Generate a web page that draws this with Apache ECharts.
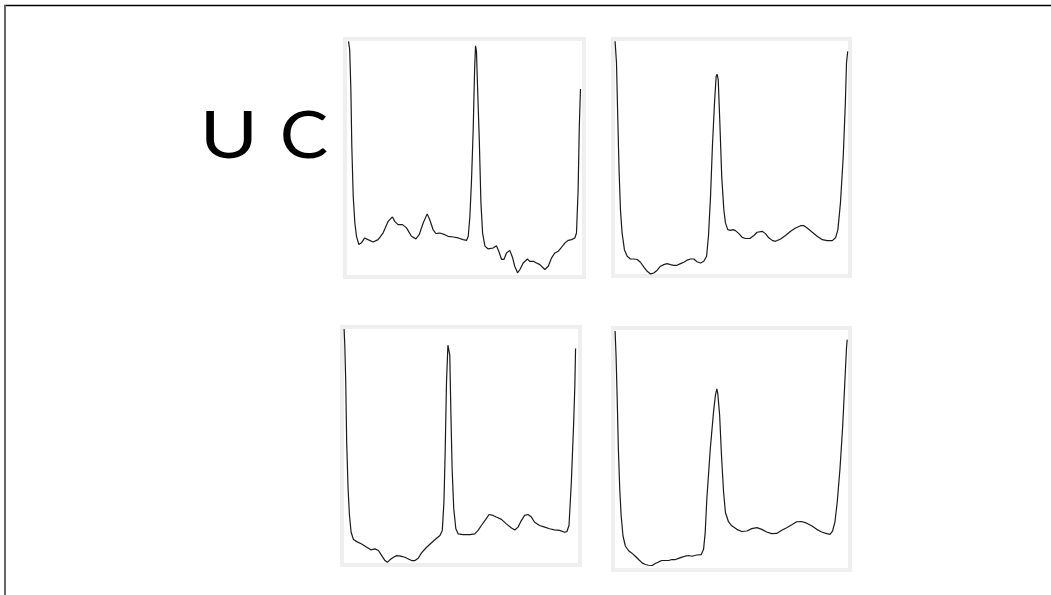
<!DOCTYPE html>
<html>
<head>
<meta charset="utf-8">
<script src="https://cdn.jsdelivr.net/npm/echarts@6/dist/echarts.min.js"></script>
<style>
html,body{margin:0;padding:0;background:#fff;}
#c{width:1051px;height:595px;}
</style>
</head>
<body>
<div id="c"></div>
<script>
// Text labels
const labelU = 'U';
const labelC = 'C';

// Panel 1 (top-left): position (0-100), intensity (0-100)
const p1X = [0.6,1.1,1.6,2.0,2.6,3.3,4.0,5.0,6.1,7.5,8.9,11.1,13.2,15.3,17.5,19.3,20.3,21.7,23.6,25.3,27.4,29.3,30.7,32.4,34.1,35.2,36.6,37.8,39.5,41.6,43.0,45.2,47.3,49.4,50.9,51.6,52.3,53.0,53.7,54.3,54.7,55.1,55.5,56.3,57.0,57.7,58.7,60.1,62.2,63.6,64.6,65.8,66.8,67.9,69.3,70.5,71.4,72.6,73.6,75.0,76.8,77.8,79.3,80.7,82.1,84.2,85.7,87.1,88.5,89.9,91.3,92.8,94.2,95.6,97.0,97.7,98.4,98.9,99.4];
const p1Y = [99.9,96.3,79.2,55.0,33.6,22.2,16.5,13.0,13.7,15.8,15.1,14.1,15.1,17.9,22.9,24.8,22.9,21.5,21.5,20.1,16.5,15.4,17.2,22.2,26.1,23.6,19.4,17.7,17.9,17.2,16.5,16.2,15.8,15.1,14.8,16.5,25.1,40.7,62.1,87.7,98.0,95.6,82.1,57.8,30.8,17.9,12.3,11.1,11.5,12.5,10.1,6.6,6.6,9.4,10.5,7.3,3.7,0.9,2.3,5.1,6.8,5.8,5.8,5.1,4.4,2.3,3.7,7.3,9.4,10.1,11.8,13.7,14.8,15.1,15.8,17.9,36.5,63.5,79.5];

// Panel 2 (top-right)
const p2X = [0,0.6,1.1,1.7,2.3,3.0,4.0,5.2,6.6,8.0,9.5,10.9,12.3,13.8,15.2,16.6,18.1,19.5,20.9,22.3,23.8,25.2,26.6,28.1,29.5,30.9,32.4,33.8,35.2,36.7,38.1,39.3,40.1,41.0,41.8,42.7,43.4,43.8,44.3,45.0,45.8,46.7,47.4,48.4,49.6,50.7,51.7,53.2,54.6,56.0,57.9,59.6,61.0,63.2,64.6,66.0,67.5,68.9,71.1,73.2,75.4,77.5,79.7,81.1,82.5,84.7,86.8,89.0,91.1,93.3,94.7,95.7,96.8,98.0,98.9,99.4,99.9];
const p2Y = [99.9,90.6,69.1,44.8,27.6,17.6,10.4,7.6,6.4,6.4,6.2,5.0,3.0,1.1,0.0,0.4,1.6,3.3,4.0,4.4,4.0,3.7,3.7,4.4,5.0,5.9,6.4,6.4,5.2,4.7,5.4,7.6,16.2,33.3,54.8,73.4,84.8,85.8,83.4,64.8,41.9,27.6,21.9,19.0,18.7,19.0,18.6,17.3,15.7,15.2,15.2,16.5,17.9,18.3,17.3,15.5,14.4,14.0,15.0,16.5,18.3,19.7,20.7,20.7,19.7,17.9,16.2,14.7,14.3,14.3,15.5,19.0,30.5,50.5,73.4,90.6,95.6];

// Panel 3 (bottom-left)
const p3X = [0,0.3,0.7,1.1,1.7,2.3,3.0,4.0,5.4,7.5,9.7,11.4,13.2,14.7,16.1,17.5,18.5,19.6,21.1,22.5,24.2,26.0,27.5,28.9,30.3,31.7,33.1,35.3,37.4,39.3,41.0,42.0,42.7,43.2,43.8,44.4,44.8,45.2,45.7,46.2,46.9,47.8,48.8,50.9,53.8,55.9,57.3,58.7,60.6,62.0,63.7,65.1,67.3,69.4,71.6,73.0,74.4,75.8,77.2,78.7,80.1,81.5,83.6,85.8,87.9,89.9,92.2,94.3,95.3,96.2,97.2,98.2,98.7,99.0];
const p3Y = [100,93.1,77.4,51.7,31.7,20.3,13.1,10.0,9.1,8.1,6.7,5.6,6.0,5.3,3.1,1.0,0.3,1.3,2.4,3.1,2.9,2.4,1.7,1.0,1.0,2.0,4.3,6.7,8.6,10.3,11.7,13.9,26.0,46.0,77.4,93.1,93.9,88.9,63.1,40.3,23.1,14.6,12.4,12.1,12.1,12.4,13.9,16.0,18.6,20.7,20.3,19.6,18.6,16.7,14.9,14.1,15.3,18.1,20.3,20.7,19.6,17.4,16.0,15.3,14.6,14.1,13.9,13.1,13.4,16.0,34.6,60.3,76.0,91.7];

// Panel 4 (bottom-right)
const p4X = [0,0.4,0.9,1.4,2.0,2.6,3.4,4.4,5.9,7.3,8.7,10.1,11.6,13.0,14.4,15.9,17.3,18.7,20.1,21.6,23.0,24.4,25.9,27.3,28.7,30.1,31.6,33.0,35.1,37.0,38.0,38.7,39.4,40.9,42.3,43.1,43.7,44.1,44.9,45.7,46.6,47.4,48.7,50.1,52.3,54.4,56.6,58.7,60.9,63.0,65.1,67.3,69.4,71.6,73.7,75.9,78.0,80.1,82.3,84.4,86.6,88.7,90.9,92.3,93.4,94.4,95.4,96.6,97.7,98.7,99.4,99.7];
const p4Y = [99.6,89.7,71.3,50.1,33.2,21.9,13.4,9.2,7.1,6.1,4.9,3.5,2.1,1.4,1.1,1.0,1.8,2.5,3.1,3.1,3.1,3.5,3.5,4.0,4.5,4.9,5.2,4.9,5.4,5.6,7.8,14.8,29.0,50.2,65.7,72.7,75.3,73.4,64.3,47.3,31.8,23.3,19.4,17.7,16.2,15.3,15.5,16.5,16.9,16.2,15.1,14.4,14.5,15.8,16.9,18.1,19.4,19.5,18.8,17.7,16.2,15.1,14.4,14.1,15.5,19.1,27.5,41.7,58.6,78.4,92.5,96.0];

const panels = [[p1X,p1Y],[p2X,p2Y],[p3X,p3Y],[p4X,p4Y]];
const gridBoxes = [
  {left:345, top:39, width:239, height:238},
  {left:613, top:39, width:237, height:237},
  {left:342, top:327, width:238, height:238},
  {left:613, top:328, width:237, height:242}
];

function pairs(xs, ys){ return xs.map((x,i)=>[x, ys[i]]); }

const chart = echarts.init(document.getElementById('c'), null, {renderer:'canvas'});
const option = {
  backgroundColor:'#ffffff',
  animation:false,
  grid: gridBoxes.map(g => Object.assign({show:true, borderColor:'#efefef', borderWidth:4, backgroundColor:'#ffffff', containLabel:false}, g)),
  xAxis: gridBoxes.map((g,i)=>({type:'value', gridIndex:i, min:-0.9, max:100.9, show:false, splitLine:{show:false}})),
  yAxis: gridBoxes.map((g,i)=>({type:'value', gridIndex:i, min:-0.9, max:100.9, show:false, splitLine:{show:false}})),
  series: panels.map((p,i)=>({
    type:'line', xAxisIndex:i, yAxisIndex:i, data:pairs(p[0],p[1]),
    showSymbol:false, smooth:false,
    lineStyle:{color:'#1a1a1a', width:1.2}
  })),
  graphic: [
    {type:'line', shape:{x1:4, y1:5.5, x2:1051, y2:5.5}, style:{stroke:'#000', lineWidth:1.5}},
    {type:'line', shape:{x1:5, y1:5, x2:5, y2:595}, style:{stroke:'#666', lineWidth:2}},
    {type:'text', x:229, y:137, scaleX:1.2, style:{text:labelU, font:'400 66px Lato', fill:'#000', align:'center', verticalAlign:'middle'}},
    {type:'text', x:304, y:137, scaleX:1.1, style:{text:labelC, font:'400 66px Lato', fill:'#000', align:'center', verticalAlign:'middle'}}
  ]
};
chart.setOption(option);
</script>
</body>
</html>
